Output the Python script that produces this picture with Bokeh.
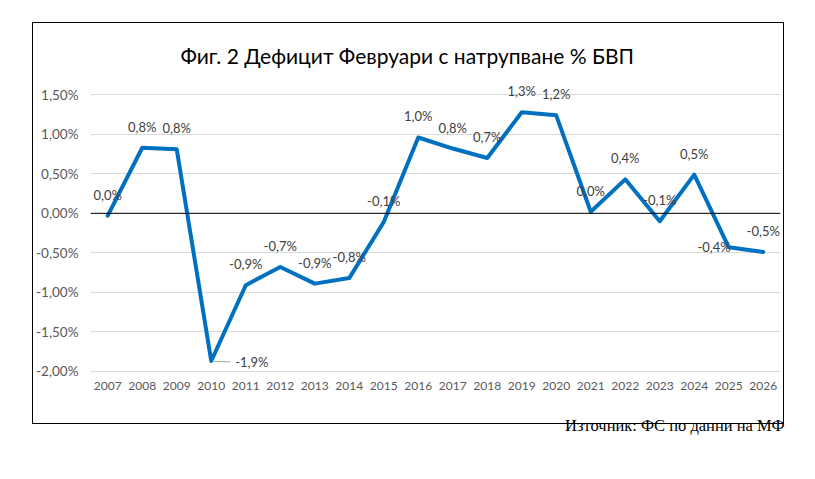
from bokeh.plotting import figure
from bokeh.models import (FactorRange, Range1d, FixedTicker, CustomJSTickFormatter,
                          Span, Title, ColumnDataSource, InlineStyleSheet)
from bokeh.core.properties import value
from bokeh.embed import file_html
from bokeh.resources import INLINE

# ---- data ----
years = ["2007", "2008", "2009", "2010", "2011", "2012", "2013", "2014", "2015", "2016",
         "2017", "2018", "2019", "2020", "2021", "2022", "2023", "2024", "2025", "2026"]
deficit = [-0.03, 0.83, 0.81, -1.87, -0.91, -0.68, -0.89, -0.82, -0.11, 0.96,
           0.82, 0.70, 1.28, 1.24, 0.02, 0.43, -0.10, 0.49, -0.43, -0.49]
labels = ["0,0%", "0,8%", "0,8%", "-1,9%", "-0,9%", "-0,7%", "-0,9%", "-0,8%", "-0,1%", "1,0%",
          "0,8%", "0,7%", "1,3%", "1,2%", "0,0%", "0,4%", "-0,1%", "0,5%", "-0,4%", "-0,5%"]
y_ticks = [-2.0, -1.5, -1.0, -0.5, 0.0, 0.5, 1.0, 1.5]
title_text = "Фиг. 2 Дефицит Февруари с натрупване % БВП"
source_text = "Източник: ФС по данни на МФ"

# label placement style (Excel data label positions)
placement = ["above"] * len(years)
placement[3] = "right"
placement[18] = "left"

FONT = "Lato"
W, H = 799, 463
FL, FR, FT, FB = 90, 780, 85, 375   # frame edges in canvas px

p = figure(width=W, height=H, x_range=FactorRange(factors=years),
           y_range=Range1d(-2.053, 1.618), output_backend="svg",
           toolbar_location=None, title=None,
           min_border_left=FL, min_border_right=W - FR,
           min_border_top=FT, min_border_bottom=H - FB)
p.outline_line_color = None
p.background_fill_color = "white"
p.border_fill_color = "white"

# chart box (drawn with CSS around the chart area)
box_css = """
:host { position: relative; }
:host::after {
  content: "";
  position: absolute;
  left: 32px; top: 22px;
  width: 752px; height: 402px;
  border: 1.5px solid #000;
  pointer-events: none;
  box-sizing: border-box;
}
"""
p.stylesheets = [InlineStyleSheet(css=box_css)]

# axes
p.xaxis.axis_line_color = None
p.xaxis.major_tick_line_color = None
p.xaxis.minor_tick_line_color = None
p.xaxis.major_tick_out = 0
p.xaxis.major_tick_in = 0
p.xaxis.major_label_standoff = 6
p.xaxis.major_label_text_font = FONT
p.xaxis.major_label_text_font_size = "12px"
p.xaxis.major_label_text_color = "#595959"

p.yaxis.axis_line_color = None
p.yaxis.major_tick_line_color = None
p.yaxis.minor_tick_line_color = None
p.yaxis.major_tick_out = 0
p.yaxis.major_tick_in = 0
p.yaxis.ticker = FixedTicker(ticks=y_ticks)
p.yaxis.formatter = CustomJSTickFormatter(
    code="return tick.toFixed(2).replace('.', ',') + '%';")
p.yaxis.major_label_standoff = 12
p.yaxis.major_label_text_font = FONT
p.yaxis.major_label_text_font_size = "13.5px"
p.yaxis.major_label_text_color = "#595959"

p.xgrid.grid_line_color = None
p.ygrid.ticker = FixedTicker(ticks=y_ticks)
p.ygrid.grid_line_color = "#D9D9D9"
p.ygrid.grid_line_width = 1

p.add_layout(Span(location=0, dimension="width", line_color="black", line_width=1))

# series
p.line(x=years, y=deficit, line_color="#0070C0", line_width=4,
       line_join="round", line_cap="round")

# leader line for 2010 label
i10 = years.index("2010")
p.segment(x0=[(years[i10], 0.08)], y0=[deficit[i10] - 0.005],
          x1=[(years[i10], 0.55)], y1=[deficit[i10] - 0.01],
          line_color="#A6A6A6", line_width=1)

# data labels
x_off, y_off, align = [], [], []
for pl in placement:
    if pl == "above":
        x_off.append(0); y_off.append(-21); align.append("center")
    elif pl == "right":
        x_off.append(24); y_off.append(1); align.append("left")
    else:
        x_off.append(2); y_off.append(0); align.append("right")
src = ColumnDataSource(dict(x=years, y=deficit, t=labels, xo=x_off, yo=y_off, al=align))
p.text(x="x", y="y", text="t", x_offset="xo", y_offset="yo", text_align="al",
       text_baseline="middle", text_font=value(FONT), text_font_size="13px",
       text_color="#404040", source=src)

# title and source note
p.add_layout(Title(text=title_text, align="left", offset=90, standoff=36,
                   text_font=FONT, text_font_size="21px", text_font_style="normal",
                   text_color="black"), "above")
p.add_layout(Title(text=source_text, align="right", offset=-4, standoff=43,
                   text_font="Liberation Serif", text_font_size="16.5px",
                   text_font_style="normal", text_color="black"), "below")

open("out.html", "w").write(file_html(p, INLINE))
